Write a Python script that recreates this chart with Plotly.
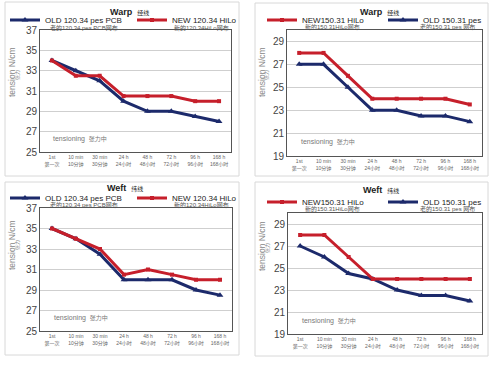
import plotly.graph_objects as go

W, H = 500, 365

categories = ["1st<br>第一次", "10 min<br>10分钟", "30 min<br>30分钟", "24 h<br>24小时",
              "48 h<br>48小时", "72 h<br>72小时", "96 h<br>96小时", "168 h<br>168小时"]

warp_old_120 = [34, 33, 32, 30, 29, 29, 28.5, 28]
warp_new_120 = [34, 32.5, 32.5, 30.5, 30.5, 30.5, 30, 30]
warp_new_150 = [28, 28, 26, 24, 24, 24, 24, 23.5]
warp_old_150 = [27, 27, 25, 23, 23, 22.5, 22.5, 22]
weft_old_120 = [35, 34, 32.5, 30, 30, 30, 29, 28.5]
weft_new_120 = [35, 34, 33, 30.5, 31, 30.5, 30, 30]
weft_new_150 = [28, 28, 26, 24, 24, 24, 24, 24]
weft_old_150 = [27, 26, 24.5, 24, 23, 22.5, 22.5, 22]

left_ticks = [25, 27, 29, 31, 33, 35, 37]
right_ticks = [19, 21, 23, 25, 27, 29]

BLUE = "#1c2a6b"
RED = "#c61f2b"
FONT = "Arial, Liberation Sans, Noto Sans CJK SC, sans-serif"


def px(x):
    return x / W


def py(y):
    return 1 - y / H


fig = go.Figure()

panels = [
    ("", (40, 231), (30, 152), [25, 37], left_ticks),
    ("2", (287, 482), (30, 156), [19, 30], right_ticks),
    ("3", (40, 232), (208, 331), [25, 37], left_ticks),
    ("4", (288, 482), (213, 334), [19, 30], right_ticks),
]

series = [
    ("", "OLD 120.34 pes PCB", warp_old_120, BLUE, "triangle-up", "legend"),
    ("", "NEW 120.34 HiLo", warp_new_120, RED, "square", "legend2"),
    ("2", "OLD 150.31 pes", warp_old_150, BLUE, "triangle-up", "legend4"),
    ("2", "NEW150.31 HiLo", warp_new_150, RED, "square", "legend3"),
    ("3", "OLD 120.34 pes PCB", weft_old_120, BLUE, "triangle-up", "legend5"),
    ("3", "NEW 120.34 HiLo", weft_new_120, RED, "square", "legend6"),
    ("4", "OLD 150.31 pes", weft_old_150, BLUE, "triangle-up", "legend8"),
    ("4", "NEW150.31 HiLo", weft_new_150, RED, "square", "legend7"),
]

for ax, name, vals, color, sym, leg in series:
    fig.add_trace(go.Scatter(
        x=categories, y=vals, name=name, mode="lines+markers",
        line=dict(color=color, width=3),
        marker=dict(symbol=sym, size=6 if sym == "triangle-up" else 4, color=color),
        xaxis="x" + ax, yaxis="y" + ax, legend=leg,
    ))

layout = dict(
    width=W, height=H, margin=dict(l=0, r=0, t=0, b=0, autoexpand=False),
    paper_bgcolor="white", plot_bgcolor="white",
    font=dict(family=FONT, color="#333"),
    showlegend=True,
)

for ax, (x0, x1), (y0, y1), yr, ticks in panels:
    layout["xaxis" + ax] = dict(
        domain=[px(x0), px(x1)], anchor="y" + ax, type="category",
        range=[-0.5, 7.5], showgrid=False, showline=True, mirror=True,
        linecolor="#555", linewidth=1, ticks="",
        tickfont=dict(size=5, color="#666"),
    )
    layout["yaxis" + ax] = dict(
        domain=[py(y1), py(y0)], anchor="x" + ax, range=yr,
        tickvals=ticks, showgrid=True, gridcolor="#cfcfcf", gridwidth=1,
        showline=True, mirror=True, linecolor="#555", linewidth=1,
        zeroline=False, ticks="", tickfont=dict(size=10, color="#444"),
    )

legend_pos = {
    "legend": (5, 20), "legend2": (132, 20),
    "legend3": (262, 20), "legend4": (383, 20),
    "legend5": (5, 198), "legend6": (132, 198),
    "legend7": (262, 202), "legend8": (383, 202),
}
for lid, (lx, ly) in legend_pos.items():
    layout[lid] = dict(
        x=px(lx), y=py(ly), xanchor="left", yanchor="middle",
        bgcolor="rgba(0,0,0,0)", borderwidth=0,
        font=dict(size=8, color="#222", family=FONT),
        itemwidth=30, tracegroupgap=0,
    )

annotations = []
for cx, cy, t, cn in [(129, 12, "Warp", "经线"), (379, 12, "Warp", "经线"),
                      (125, 188, "Weft", "纬线"), (381, 190, "Weft", "纬线")]:
    annotations.append(dict(
        x=px(cx), y=py(cy), xref="paper", yref="paper", showarrow=False,
        text=f"<b>{t}</b>  <span style='font-size:6px'>{cn}</span>",
        font=dict(size=9, color="#222"), xanchor="center", yanchor="middle"))

# y axis titles
for tx, ty, cx, cy in [(12, 72, 18, 75), (262, 72, 267, 75),
                       (12, 245, 17, 245), (262, 246, 267, 248)]:
    annotations.append(dict(
        x=px(tx), y=py(ty), xref="paper", yref="paper", showarrow=False,
        text="tension N/cm", textangle=-90, font=dict(size=8.5, color="#888"),
        xanchor="center", yanchor="middle"))
    annotations.append(dict(
        x=px(cx), y=py(cy), xref="paper", yref="paper", showarrow=False,
        text="张力", textangle=-90, font=dict(size=5, color="#888"),
        xanchor="center", yanchor="middle"))

for x, y, t, anc in [(48, 28, "老的120.34 pes PCB网布", "left"),
                     (231, 28, "新的120.34HiLo网布", "right"),
                     (303, 27, "新的150.31HiLo网布", "left"),
                     (477, 27, "老的150.31 pes 网布", "right"),
                     (48, 205, "老的120.34 pes PCB网布", "left"),
                     (231, 205, "新的120.34HiLo网布", "right"),
                     (303, 209, "新的150.31HiLo网布", "left"),
                     (477, 209, "老的150.31 pes 网布", "right")]:
    annotations.append(dict(
        x=px(x), y=py(y), xref="paper", yref="paper", showarrow=False,
        text=t, font=dict(size=6, color="#555"), xanchor=anc, yanchor="middle"))

for ax in ["", "2", "3", "4"]:
    annotations.append(dict(
        x=0.06, y=0.06, xref=("x" + ax) + " domain",
        yref=("y" + ax) + " domain", showarrow=False,
        text="tensioning  <span style='font-size:6px'>张力中</span>",
        font=dict(size=7, color="#777"), xanchor="left", yanchor="bottom"))

layout["annotations"] = annotations

shapes = []
for x0, y0, x1, y1 in [(5, 2, 239, 176), (255, 3, 488, 176),
                       (5, 182, 239, 355), (255, 182, 488, 356)]:
    shapes.append(dict(type="rect", xref="paper", yref="paper",
                       x0=px(x0), x1=px(x1), y0=py(y1), y1=py(y0),
                       line=dict(color="#d8d8d8", width=1), layer="below"))
layout["shapes"] = shapes

fig.update_layout(**layout)
fig.write_html(
    "out.html",
    config={"displayModeBar": False},
    post_script="document.body.style.margin='0';document.body.style.overflow='hidden';",
)
